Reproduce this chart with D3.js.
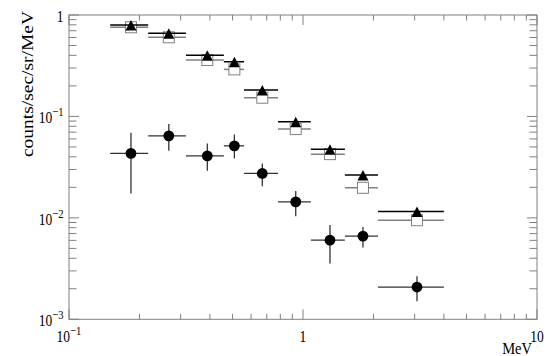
<!DOCTYPE html>
<html>
<head>
<meta charset="utf-8">
<script src="https://cdn.jsdelivr.net/npm/d3@7"></script>
<style>
  body { margin: 0; background: #fff; }
  svg { display: block; }
  text { font-family: "Liberation Serif", "Times New Roman", serif; fill: #000; }
</style>
</head>
<body>
<svg id="chart" width="558" height="356"></svg>
<script>
// energy bins (MeV)
var binLow    = [0.15, 0.218, 0.316, 0.459, 0.56, 0.782, 1.08, 1.51, 2.09];
var binHigh   = [0.218, 0.316, 0.459, 0.56, 0.782, 1.08, 1.51, 2.09, 4.0];
var binCenter = [0.184, 0.267, 0.390, 0.509, 0.670, 0.931, 1.304, 1.804, 3.07];

// series values (counts/sec/sr/MeV)
var triangleValues = [0.797, 0.660, 0.400, 0.346, 0.182, 0.0885, 0.0476, 0.0264, 0.01155];
var squareValues   = [0.757, 0.603, 0.360, 0.291, 0.153, 0.0750, 0.0425, 0.0198, 0.00948];
var circleValues   = [0.0432, 0.0644, 0.0409, 0.0513, 0.0274, 0.01436, 0.00603, 0.00660, 0.00208];
var circleErrLow   = [0.0174, 0.0458, 0.0291, 0.0385, 0.0205, 0.01038, 0.00354, 0.00510, 0.00151];
var circleErrHigh  = [0.0689, 0.0840, 0.0542, 0.0665, 0.0344, 0.01845, 0.00852, 0.00814, 0.00266];

// axis ticks and labels
var xMajorTicks = [0.1, 1, 10];
var xTickBase   = ["10", "1", "10"];
var xTickExp    = ["\u22121", "", ""];
var yMajorTicks = [1, 0.1, 0.01, 0.001];
var yTickBase   = ["1", "10", "10", "10"];
var yTickExp    = ["", "\u22121", "\u22122", "\u22123"];
var xTitle = "MeV";
var yTitle = "counts/sec/sr/MeV";

var svg = d3.select("#chart");
var plotLeft = 69, plotRight = 537, plotTop = 15, plotBottom = 319.3;
var axisColor = "#808080";
var squeeze = 0.82;   // labels in the picture are a bit narrow

var x = d3.scaleLog().domain([0.1, 10]).range([plotLeft, plotRight]);
var y = d3.scaleLog().domain([0.001, 1]).range([plotBottom, plotTop]);

function minorTicks(scale) {
  var d = scale.domain(), out = [];
  for (var e = Math.round(Math.log10(d[0])); e < Math.round(Math.log10(d[1])); e++) {
    for (var m = 2; m <= 9; m++) out.push(m * Math.pow(10, e));
  }
  return out;
}

// frame
svg.append("rect")
    .attr("x", plotLeft).attr("y", plotTop)
    .attr("width", plotRight - plotLeft).attr("height", plotBottom - plotTop)
    .attr("fill", "none").attr("stroke", axisColor).attr("stroke-width", 1);

var ticks = svg.append("g").attr("stroke", axisColor).attr("stroke-width", 1);

// x ticks bottom and top
ticks.selectAll(".xminor").data(minorTicks(x)).enter().append("path")
    .attr("d", function(d) { return "M" + x(d) + "," + plotBottom + "v-5.5M" + x(d) + "," + plotTop + "v5.5"; });
ticks.selectAll(".xmajor").data(xMajorTicks).enter().append("path")
    .attr("d", function(d) { return "M" + x(d) + "," + plotBottom + "v-10M" + x(d) + "," + plotTop + "v10"; });

// y ticks left and right
ticks.selectAll(".yminor").data(minorTicks(y)).enter().append("path")
    .attr("d", function(d) { return "M" + plotLeft + "," + y(d) + "h7.5M" + plotRight + "," + y(d) + "h-7.5"; });
ticks.selectAll(".ymajor").data(yMajorTicks).enter().append("path")
    .attr("d", function(d) { return "M" + plotLeft + "," + y(d) + "h10M" + plotRight + "," + y(d) + "h-10"; });

function powerLabel(g, base, exp) {
  g.append("tspan").text(base);
  if (exp) g.append("tspan").attr("dy", -7).attr("font-size", "13px").text(exp);
}

// x tick labels
xMajorTicks.forEach(function(v, i) {
  var t = svg.append("text")
      .attr("transform", "translate(" + x(v) + ",342) scale(" + squeeze + ",1)")
      .attr("text-anchor", "middle")
      .attr("font-size", "16.5px");
  powerLabel(t, xTickBase[i], xTickExp[i]);
});

// y tick labels
yMajorTicks.forEach(function(v, i) {
  var t = svg.append("text")
      .attr("transform", "translate(63.5," + (y(v) + 7) + ") scale(" + squeeze + ",1)")
      .attr("text-anchor", "end")
      .attr("font-size", "16.5px");
  powerLabel(t, yTickBase[i], yTickExp[i]);
});

// axis titles
svg.append("text")
    .attr("transform", "translate(532,353.5) scale(0.88,1)")
    .attr("text-anchor", "end")
    .attr("font-size", "16.5px")
    .text(xTitle);

svg.append("text")
    .attr("transform", "translate(33,84) rotate(-90) scale(1,0.87)")
    .attr("text-anchor", "middle")
    .attr("font-size", "19.5px")
    .text(yTitle);

var idx = d3.range(binCenter.length);

// circles: error bars then markers
var circ = svg.append("g");
circ.selectAll(".ch").data(idx).enter().append("line")
    .attr("x1", function(i) { return x(binLow[i]); })
    .attr("x2", function(i) { return x(binHigh[i]); })
    .attr("y1", function(i) { return y(circleValues[i]); })
    .attr("y2", function(i) { return y(circleValues[i]); })
    .attr("stroke", "#333").attr("stroke-width", 1.3);
circ.selectAll(".cv").data(idx).enter().append("line")
    .attr("x1", function(i) { return x(binCenter[i]); })
    .attr("x2", function(i) { return x(binCenter[i]); })
    .attr("y1", function(i) { return y(circleErrLow[i]); })
    .attr("y2", function(i) { return y(circleErrHigh[i]); })
    .attr("stroke", "#333").attr("stroke-width", 1.3);
circ.selectAll(".cm").data(idx).enter().append("circle")
    .attr("cx", function(i) { return x(binCenter[i]); })
    .attr("cy", function(i) { return y(circleValues[i]); })
    .attr("r", 5.4)
    .attr("fill", "#000");

// open squares
var sq = svg.append("g");
sq.selectAll(".sh").data(idx).enter().append("line")
    .attr("x1", function(i) { return x(binLow[i]); })
    .attr("x2", function(i) { return x(binHigh[i]); })
    .attr("y1", function(i) { return y(squareValues[i]); })
    .attr("y2", function(i) { return y(squareValues[i]); })
    .attr("stroke", "#808080").attr("stroke-width", 1.5);
sq.selectAll(".sm").data(idx).enter().append("rect")
    .attr("x", function(i) { return x(binCenter[i]) - 5.5; })
    .attr("y", function(i) { return y(squareValues[i]) - 5.5; })
    .attr("width", 11).attr("height", 11)
    .attr("fill", "#fff").attr("stroke", "#808080").attr("stroke-width", 1);

// filled triangles
var tri = svg.append("g");
tri.selectAll(".th").data(idx).enter().append("line")
    .attr("x1", function(i) { return x(binLow[i]); })
    .attr("x2", function(i) { return x(binHigh[i]); })
    .attr("y1", function(i) { return y(triangleValues[i]); })
    .attr("y2", function(i) { return y(triangleValues[i]); })
    .attr("stroke", "#000").attr("stroke-width", 1.5);
tri.selectAll(".tm").data(idx).enter().append("path")
    .attr("transform", function(i) { return "translate(" + x(binCenter[i]) + "," + (y(triangleValues[i]) + 0.5) + ")"; })
    .attr("d", "M0,-5.5L5.5,5L-5.5,5Z")
    .attr("fill", "#000");
</script>
</body>
</html>
